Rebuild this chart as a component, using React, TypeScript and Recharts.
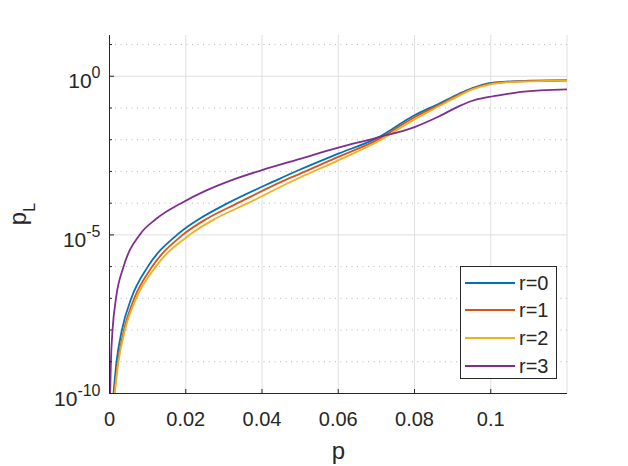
import React from 'react';
import {
  LineChart,
  Line,
  XAxis,
  YAxis,
  CartesianGrid,
  ReferenceLine,
  Legend,
} from 'recharts';

const FONT = '"Liberation Sans", Arial, Helvetica, sans-serif';
const AX = '#262626';

// series names and colours
const SERIES_NAMES = ['r=0', 'r=1', 'r=2', 'r=3'];
const SERIES_COLORS = ['#0072BD', '#D95319', '#EDB120', '#7E2F8E'];

// r=0
const P_R0 = [0.00105, 0.00184, 0.00325, 0.00571, 0.01006, 0.0177, 0.0235, 0.031, 0.0437, 0.05, 0.06, 0.07, 0.08, 0.0865, 0.0917, 0.095, 0.0996, 0.104, 0.108, 0.12];
const PL_R0 = [1e-10, 1e-9, 1e-8, 1e-7, 1e-6, 1e-5, 3.16e-5, 1e-4, 5.25e-4, 1.15e-3, 3.63e-3, 0.011, 0.059, 0.138, 0.282, 0.417, 0.603, 0.676, 0.708, 0.748];
// r=1
const P_R1 = [0.00128, 0.0022, 0.0038, 0.0065, 0.0112, 0.0192, 0.0254, 0.0336, 0.0459, 0.05, 0.06, 0.07, 0.08, 0.0865, 0.0917, 0.095, 0.0996, 0.104, 0.108, 0.12];
const PL_R1 = [1e-10, 1e-9, 1e-8, 1e-7, 1e-6, 1e-5, 3.16e-5, 1e-4, 5.25e-4, 8.5e-4, 2.88e-3, 9.55e-3, 0.0513, 0.126, 0.263, 0.398, 0.575, 0.661, 0.692, 0.741];
// r=2
const P_R2 = [0.00135, 0.00234, 0.00405, 0.007, 0.01214, 0.021, 0.0276, 0.0363, 0.048, 0.05, 0.06, 0.07, 0.08, 0.0865, 0.0917, 0.095, 0.0996, 0.104, 0.108, 0.12];
const PL_R2 = [1e-10, 1e-9, 1e-8, 1e-7, 1e-6, 1e-5, 3.16e-5, 1e-4, 5.0e-4, 6.46e-4, 2.24e-3, 8.3e-3, 0.0437, 0.115, 0.245, 0.38, 0.55, 0.646, 0.676, 0.741];
// r=3
const P_R3 = [0.00017, 0.00037, 0.0008, 0.0017, 0.0037, 0.0079, 0.0122, 0.0188, 0.025, 0.0319, 0.04, 0.05, 0.06, 0.07, 0.08, 0.0865, 0.0917, 0.095, 0.0996, 0.104, 0.108, 0.12];
const PL_R3 = [1e-10, 1e-9, 1e-8, 1e-7, 1e-6, 1e-5, 3.16e-5, 1e-4, 2.4e-4, 5.25e-4, 1.1e-3, 2.5e-3, 5.6e-3, 0.0115, 0.0251, 0.055, 0.114, 0.166, 0.224, 0.275, 0.324, 0.389];

// axes
const X_TICKS = [0, 0.02, 0.04, 0.06, 0.08, 0.1];
const X_DOMAIN = [0, 0.12];
const Y_DOMAIN = [1e-10, 20];
const Y_DECADES = [1e-10, 1e-9, 1e-8, 1e-7, 1e-6, 1e-5, 1e-4, 1e-3, 1e-2, 1e-1, 1, 10];
const Y_MAJOR = [1e-10, 1e-5, 1];
const Y_MAJOR_LABELS = ['-10', '-5', '0'];
const Y_MINOR_GRID = [1e-9, 1e-8, 1e-7, 1e-6, 1e-4, 1e-3, 1e-2, 1e-1, 10];
const Y_MAJOR_GRID = [1e-5, 1];

const SERIES_P = [P_R0, P_R1, P_R2, P_R3];
const SERIES_PL = [PL_R0, PL_R1, PL_R2, PL_R3];
const seriesData = SERIES_P.map((ps, i) => ps.map((p, j) => ({ x: p, y: SERIES_PL[i][j] })));

const majorIndex = (v: number) => Y_MAJOR.findIndex((m) => Math.abs(Math.log10(m) - Math.log10(v)) < 1e-6);

const BottomTick = (props: any) => {
  const { x, y, payload } = props;
  return (
    <g>
      <line x1={x} x2={x} y1={y} y2={y - 4.5} stroke={AX} strokeWidth={1} />
      <text x={x} y={y + 32} textAnchor="middle" fontSize={20} fontFamily={FONT} fill={AX}>
        {String(payload.value)}
      </text>
    </g>
  );
};

const TopTick = (props: any) => {
  const { x, y } = props;
  return <line x1={x} x2={x} y1={y} y2={y + 4.5} stroke={AX} strokeWidth={1} />;
};

const LeftTick = (props: any) => {
  const { x, y, payload } = props;
  const idx = majorIndex(payload.value as number);
  const major = idx >= 0;
  return (
    <g>
      <line x1={x} x2={x + (major ? 4.5 : 2.5)} y1={y} y2={y} stroke={AX} strokeWidth={1} />
      {major && (
        <text x={x - 9} y={y + 12} textAnchor="end" fontSize={21} fontFamily={FONT} fill={AX}>
          10
          <tspan dy={-10} fontSize={16}>
            {Y_MAJOR_LABELS[idx]}
          </tspan>
        </text>
      )}
    </g>
  );
};

const RightTick = (props: any) => {
  const { x, y, payload } = props;
  const major = majorIndex(payload.value as number) >= 0;
  return <line x1={x} x2={x - (major ? 4.5 : 2.5)} y1={y} y2={y} stroke={AX} strokeWidth={1} />;
};

const LegendBox = (props: any) => {
  const payload = (props.payload || []) as any[];
  return (
    <div
      style={{
        width: 97,
        height: 113,
        boxSizing: 'border-box',
        border: `1px solid ${AX}`,
        background: '#fff',
        fontFamily: FONT,
        fontSize: 20,
        color: AX,
        paddingTop: 2,
      }}
    >
      {payload.map((entry: any, i: number) => (
        <div key={i} style={{ height: 27.6, display: 'flex', alignItems: 'center' }}>
          <div style={{ marginLeft: 4, width: 50, height: 2, background: entry.color }} />
          <span style={{ marginLeft: 4, lineHeight: '20px' }}>{entry.value}</span>
        </div>
      ))}
    </div>
  );
};

export default function App() {
  return (
    <div style={{ position: 'absolute', left: 0, top: 0, width: 628, height: 466, background: '#fff' }}>
      <LineChart width={628} height={466} margin={{ top: 35, right: 61, bottom: 0, left: 0 }}>
        <CartesianGrid horizontal={false} stroke="#dfdfdf" strokeWidth={1} />
        {Y_MINOR_GRID.map((v) => (
          <ReferenceLine key={'mn' + v} y={v} stroke="#b8b8b8" strokeDasharray="1 4.5" strokeWidth={1} />
        ))}
        {Y_MAJOR_GRID.map((v) => (
          <ReferenceLine key={'mj' + v} y={v} stroke="#dfdfdf" strokeWidth={1} />
        ))}
        <XAxis
          dataKey="x"
          type="number"
          domain={X_DOMAIN}
          ticks={X_TICKS}
          interval={0}
          allowDataOverflow
          height={72.5}
          tickSize={0}
          tickMargin={0}
          tickLine={false}
          axisLine={{ stroke: AX, strokeWidth: 1 }}
          tick={BottomTick}
          label={{
            content: () => (
              <text x={338.5} y={459} textAnchor="middle" fontSize={24} fontFamily={FONT} fill={AX}>
                p
              </text>
            ),
          }}
        />
        <XAxis
          xAxisId="top"
          orientation="top"
          dataKey="x"
          type="number"
          domain={X_DOMAIN}
          ticks={X_TICKS}
          interval={0}
          allowDataOverflow
          height={0}
          tickSize={0}
          tickMargin={0}
          tickLine={false}
          axisLine={{ stroke: AX, strokeWidth: 1 }}
          tick={TopTick}
        />
        <YAxis
          type="number"
          scale="log"
          domain={Y_DOMAIN}
          ticks={Y_DECADES}
          interval={0}
          allowDataOverflow
          width={109.5}
          tickSize={0}
          tickMargin={0}
          tickLine={false}
          axisLine={{ stroke: AX, strokeWidth: 1 }}
          tick={LeftTick}
          label={{
            content: () => (
              <text
                x={26}
                y={214}
                transform="rotate(-90, 26, 214)"
                textAnchor="middle"
                fontSize={24}
                fontFamily={FONT}
                fill={AX}
              >
                p
                <tspan dy={9} fontSize={16}>
                  L
                </tspan>
              </text>
            ),
          }}
        />
        <YAxis
          yAxisId="right"
          orientation="right"
          type="number"
          scale="log"
          domain={Y_DOMAIN}
          ticks={Y_DECADES}
          interval={0}
          allowDataOverflow
          width={0}
          tickSize={0}
          tickMargin={0}
          tickLine={false}
          axisLine={{ stroke: AX, strokeWidth: 1 }}
          tick={RightTick}
        />
        {seriesData.map((d, i) => (
          <Line
            key={SERIES_NAMES[i]}
            data={d}
            dataKey="y"
            name={SERIES_NAMES[i]}
            type="monotone"
            stroke={SERIES_COLORS[i]}
            strokeWidth={1.8}
            dot={false}
            activeDot={false}
            isAnimationActive={false}
          />
        ))}
        <Legend
          layout="vertical"
          align="center"
          verticalAlign="middle"
          content={LegendBox}
          wrapperStyle={{ left: 460, top: 266, width: 97, height: 113 }}
        />
      </LineChart>
    </div>
  );
}
